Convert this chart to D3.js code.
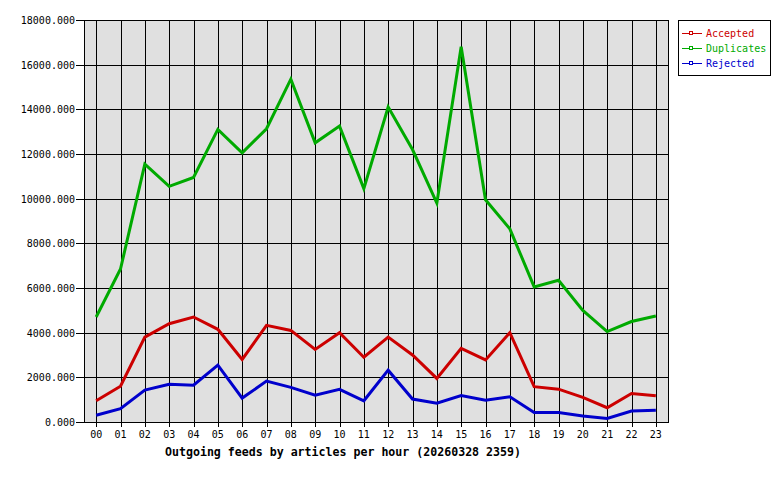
<!DOCTYPE html>
<html><head><meta charset="utf-8">
<script src="https://cdn.jsdelivr.net/npm/d3@7"></script>
<style>body{margin:0;background:#fff}svg{display:block}text{font-family:"DejaVu Sans Mono",monospace}</style>
</head><body><svg id="c" width="780" height="480"></svg>
<script>
const hours = ["00","01","02","03","04","05","06","07","08","09","10","11","12","13","14","15","16","17","18","19","20","21","22","23"];
const accepted = [950,1600,3800,4400,4700,4150,2800,4330,4100,3250,4000,2900,3800,3000,1950,3300,2780,4000,1580,1470,1100,640,1280,1180];
const duplicates = [4700,6850,11550,10550,10950,13100,12050,13130,15350,12500,13250,10450,14100,12200,9800,16800,9950,8650,6050,6350,5000,4050,4500,4750];
const rejected = [300,600,1430,1690,1650,2550,1070,1830,1550,1200,1460,950,2320,1030,840,1180,980,1130,430,420,270,160,490,530];
const yTicks = [0,2000,4000,6000,8000,10000,12000,14000,16000,18000];
const seriesNames = ["Accepted","Duplicates","Rejected"];
const seriesColors = ["#cc0000","#00aa00","#0000cc"];
const title = "Outgoing feeds by articles per hour (20260328 2359)";

const svg = d3.select("#c");
const L=84,R=668,T=20,B=422;
const x = d3.scalePoint().domain(hours).range([L,R]).padding(0.5);
const y = d3.scaleLinear().domain([0,18000]).range([B,T]);

svg.append("rect").attr("x",L+0.5).attr("y",T+0.5).attr("width",R-L).attr("height",B-T).attr("fill","#e0e0e0");

const g = svg.append("g").attr("shape-rendering","crispEdges");
g.selectAll(".vg").data(hours).join("line")
  .attr("x1",d=>Math.round(x(d))+0.5).attr("x2",d=>Math.round(x(d))+0.5)
  .attr("y1",T).attr("y2",B+5).attr("stroke","#000");
g.selectAll(".hg").data(yTicks).join("line")
  .attr("x1",L-8).attr("x2",R)
  .attr("y1",d=>Math.round(y(d))+0.5).attr("y2",d=>Math.round(y(d))+0.5).attr("stroke","#000");
g.append("rect").attr("x",L+0.5).attr("y",T+0.5).attr("width",R-L).attr("height",B-T).attr("fill","none").attr("stroke","#000");

svg.selectAll(".yl").data(yTicks).join("text")
  .attr("x",75).attr("y",d=>y(d)+4).attr("text-anchor","end").attr("font-size",10)
  .text(d=>d3.format(".3f")(d));
svg.selectAll(".xl").data(hours).join("text")
  .attr("x",d=>x(d)).attr("y",438).attr("text-anchor","middle").attr("font-size",10)
  .text(d=>d);
svg.append("text").attr("x",343).attr("y",456).attr("text-anchor","middle")
  .attr("font-size",11.6).attr("font-weight","bold").text(title);

const data = [accepted,duplicates,rejected];
const line = d3.line().x((d,i)=>x(hours[i])).y(d=>y(d));
data.forEach((s,k)=>{
  svg.append("path").datum(s).attr("d",line).attr("fill","none")
    .attr("stroke",seriesColors[k]).attr("stroke-width",3).attr("stroke-linejoin","miter");
});

const lg = svg.append("g").attr("shape-rendering","crispEdges");
lg.append("rect").attr("x",678.5).attr("y",20.5).attr("width",92).attr("height",55).attr("fill","#fff").attr("stroke","#000");
seriesNames.forEach((n,k)=>{
  const yy = 33+k*15;
  lg.append("line").attr("x1",682).attr("x2",702).attr("y1",yy+0.5).attr("y2",yy+0.5).attr("stroke",seriesColors[k]);
  lg.append("rect").attr("x",689.5).attr("y",yy-1.5).attr("width",3).attr("height",3).attr("fill","#fff").attr("stroke",seriesColors[k]);
  svg.append("text").attr("x",706).attr("y",yy+4).attr("font-size",10).attr("fill",seriesColors[k]).text(n);
});
</script></body></html>
